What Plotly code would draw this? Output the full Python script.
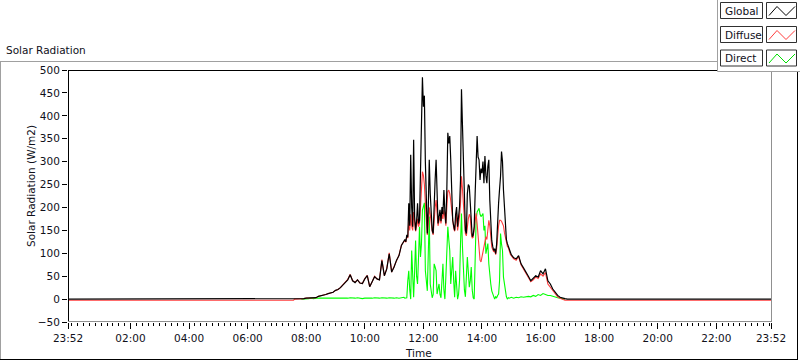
import plotly.graph_objects as go

# ---------------- data ----------------
# first entry is 23:52 of the previous day, all others are on the plotted day
clock_times = [
    "23:52", "07:34", "07:36", "07:40", "07:45",
    "07:50", "07:55", "08:00", "08:05", "08:10", "08:15", "08:20", "08:25", "08:30", "08:35",
    "08:40", "08:45", "08:50", "08:55", "09:00", "09:05", "09:10", "09:15", "09:20", "09:25",
    "09:30", "09:35", "09:40", "09:45", "09:50", "09:55", "10:00", "10:05", "10:10", "10:15",
    "10:20", "10:25", "10:30", "10:35", "10:40", "10:45", "10:50", "10:55", "11:00", "11:05",
    "11:10", "11:15", "11:20",
    "11:22", "11:24", "11:26", "11:28", "11:30", "11:32", "11:34", "11:36", "11:38", "11:40",
    "11:42", "11:44", "11:46", "11:48", "11:50", "11:52", "11:54", "11:56", "11:58",
    "12:00", "12:02", "12:04", "12:06", "12:08", "12:10", "12:12", "12:14", "12:16", "12:18",
    "12:20", "12:22", "12:24", "12:26", "12:28", "12:30", "12:32", "12:34", "12:36", "12:38",
    "12:40", "12:42", "12:44", "12:46", "12:48", "12:50", "12:52", "12:54", "12:56", "12:58",
    "13:00", "13:02", "13:04", "13:06", "13:08", "13:10", "13:12", "13:14", "13:16", "13:18",
    "13:20", "13:22", "13:24", "13:26", "13:28", "13:30", "13:32", "13:34", "13:36", "13:38",
    "13:40", "13:42", "13:44", "13:46", "13:48", "13:50", "13:52", "13:54", "13:56", "13:58",
    "14:00", "14:02", "14:04", "14:06", "14:08", "14:10", "14:12", "14:14", "14:16", "14:18",
    "14:20", "14:22", "14:24", "14:26", "14:28", "14:30", "14:32", "14:34", "14:36", "14:38",
    "14:40", "14:42", "14:44", "14:46", "14:48", "14:50", "14:52", "14:54", "14:56", "14:58",
    "15:00",
    "15:05", "15:10", "15:15", "15:20", "15:25", "15:30", "15:35", "15:40", "15:45", "15:50",
    "15:55", "16:00", "16:05", "16:10", "16:15", "16:20", "16:25", "16:30", "16:35", "16:40",
    "16:45", "16:50", "16:55", "17:00", "17:30", "23:52",
]

global_wm2 = [
    0, 0, 0, 0, 0,
    0, 1, 2, 2, 2, 3, 3, 6, 7, 8,
    10, 12, 14, 15, 19, 21, 25, 30, 37, 42,
    53, 40, 36, 42, 35, 34, 44, 51, 27, 38,
    49, 44, 42, 84, 51, 66, 99, 59, 70, 85,
    95, 117, 128,
    130, 125, 140, 135, 209, 160, 315, 200, 158, 348,
    180, 150, 170, 209, 165, 172, 260, 370, 484,
    420, 444, 300, 187, 143, 200, 304, 230, 172, 150,
    143, 216, 260, 304, 200, 165, 180, 195, 170, 201,
    185, 238, 190, 165, 240, 363, 340, 356, 304, 220,
    172, 160, 150, 185, 201, 158, 175, 201, 260, 458,
    380, 304, 200, 150, 143, 230, 250, 246, 210, 170,
    136, 140, 158, 230, 300, 356, 310, 304, 260, 285,
    275, 300, 253, 312, 270, 253, 290, 304, 216, 170,
    128, 115, 106, 110, 99, 120, 180, 209, 240, 268,
    322, 300, 238, 190, 158, 130, 121, 115, 106, 100,
    97,
    90, 88, 95, 77, 68, 60, 50, 40, 45, 51,
    48, 62, 55, 66, 40, 33, 22, 14, 8, 4,
    2, 1, 0, 0, 0, 0,
]

diffuse_wm2 = [
    -2.5, -2.5, 0, 0, 0,
    0, 1, 2, 2, 2, 3, 3, 6, 7, 8,
    10, 12, 14, 15, 19, 21, 25, 30, 37, 43,
    54, 40, 37, 42, 35, 34, 45, 52, 27, 38,
    50, 44, 42, 86, 51, 67, 101, 59, 71, 86,
    96, 118, 127,
    128, 124, 138, 133, 170, 150, 185, 160, 150, 190,
    165, 148, 160, 175, 158, 165, 200, 240, 278,
    270, 250, 210, 170, 140, 165, 200, 185, 160, 148,
    140, 180, 200, 216, 185, 160, 170, 180, 165, 185,
    175, 194, 180, 160, 200, 235, 238, 230, 215, 190,
    165, 155, 148, 170, 185, 150, 165, 180, 210, 268,
    240, 200, 160, 143, 138, 160, 175, 185, 180, 145,
    133, 135, 150, 175, 187, 165, 140, 100, 85, 81,
    92, 110, 121, 128, 136, 130, 150, 172, 160, 135,
    114, 108, 103, 106, 97, 110, 140, 160, 172, 172,
    170, 165, 160, 145, 135, 121, 115, 112, 104, 98,
    95,
    88, 85, 93, 75, 66, 58, 48, 38, 42, 48,
    45, 55, 50, 58, 33, 26, 17, 10, 5, 2,
    0, -2.5, -2.5, -2.5, -2.5, -2.5,
]

# night-time direct values lie under the global trace and are not visible -> None
direct_wm2 = [
    None, None, None, None, None,
    0, 0, 1, 1, 2, 1, 2, 2, 1, 2,
    2, 1, 2, 2, 1, 2, 2, 1, 2, 2,
    3, 2, 2, 3, 2, 1, 2, 2, 1, 2,
    3, 2, 2, 3, 2, 2, 3, 2, 2, 3,
    2, 3, 4,
    2, 2, 3, 40, 62, 20, 0, 106, 30, 4,
    60, 128, 50, 33, 90, 158, 92, 120, 194,
    200, 210, 62, 40, 18, 100, 180, 33, 20, 3,
    10, 77, 70, 62, 11, 20, 33, 10, 3, 40,
    77, 20, 0, 48, 100, 158, 130, 106, 33, 60,
    92, 40, 4, 62, 30, 0, 10, 40, 120, 187,
    114, 60, 20, 5, 40, 92, 60, 26, 40, 70,
    20, 3, 0, 120, 172, 190, 194, 198, 185, 180,
    183, 187, 150, 160, 99, 110, 121, 77, 50, 33,
    18, 10, 3, 0, 5, 3, 8, 11, 40, 143,
    120, 106, 48, 30, 18, 5, 0, 3, 2, 3,
    4,
    2, 4, 3, 5, 4, 5, 6, 5, 8, 6,
    10, 8, 12, 10, 8, 8, 6, 5, 3, 2,
    1, 0, None, None, None, None,
]

x_tick_labels = ["23:52", "02:00", "04:00", "06:00", "08:00", "10:00", "12:00",
                 "14:00", "16:00", "18:00", "20:00", "22:00", "23:52"]
x_tick_times = ["2024-05-01 23:52", "2024-05-02 02:00", "2024-05-02 04:00", "2024-05-02 06:00",
                "2024-05-02 08:00", "2024-05-02 10:00", "2024-05-02 12:00", "2024-05-02 14:00",
                "2024-05-02 16:00", "2024-05-02 18:00", "2024-05-02 20:00", "2024-05-02 22:00",
                "2024-05-02 23:52"]

assert len(clock_times) == len(global_wm2) == len(diffuse_wm2) == len(direct_wm2)

x_vals = [("2024-05-01 " if i == 0 else "2024-05-02 ") + t for i, t in enumerate(clock_times)]

# ---------------- figure ----------------
W, H = 800, 361
X0, X1, Y0, Y1 = 68, 771, 70, 322  # plot area in pixels


def px(x):
    return (x - X0) / (X1 - X0)


def py(y):
    return (Y1 - y) / (Y1 - Y0)


FONT = "DejaVu Sans"
TXT = "#10101a"

fig = go.Figure()
fig.add_trace(go.Scatter(x=x_vals, y=direct_wm2, mode="lines", name="Direct",
                         line=dict(color="#00ff00", width=1.1), connectgaps=False))
fig.add_trace(go.Scatter(x=x_vals, y=diffuse_wm2, mode="lines", name="Diffuse",
                         line=dict(color="#ff3c3c", width=1.1)))
fig.add_trace(go.Scatter(x=x_vals, y=global_wm2, mode="lines", name="Global",
                         line=dict(color="#000000", width=1.2)))

shapes = []


def line(x0, y0, x1, y1, color, width=1):
    shapes.append(dict(type="line", xref="paper", yref="paper",
                       x0=px(x0), y0=py(y0), x1=px(x1), y1=py(y1),
                       line=dict(color=color, width=width), layer="above"))


def rect(x0, y0, x1, y1, linecolor, fill="white", width=1):
    shapes.append(dict(type="rect", xref="paper", yref="paper",
                       x0=px(x0), y0=py(y0), x1=px(x1), y1=py(y1),
                       line=dict(color=linecolor, width=width), fillcolor=fill, layer="above"))


# outer frame
line(0, 61.5, 800, 61.5, "#a0a0a0")
line(0.5, 61, 0.5, 360, "#a0a0a0")
line(0, 359.5, 798, 359.5, "#000000")
line(797.5, 61, 797.5, 360, "#000000")
# plot frame
line(68.5, 70, 68.5, 322, "#000000")
line(68, 70.5, 772, 70.5, "#000000")
line(771.5, 70, 771.5, 322, "#909090")
line(68, 321.5, 772, 321.5, "#909090")

# legend panel
rect(717.5, -2, 802, 71.5, "#a0a0a0", fill="white")
legend_rows = [("Global", "#000000", 2.5), ("Diffuse", "#ff3c3c", 26.5), ("Direct", "#00e000", 50.0)]
annotations = []
for name, col, ytop in legend_rows:
    rect(720.5, ytop, 762.5, ytop + 16, "#303030", fill="white")
    rect(766.5, ytop, 796.5, ytop + 16, "#303030", fill="white")
    pts = [(769, ytop + 13), (777, ytop + 4), (786, ytop + 13), (795, ytop + 4)]
    path = "M " + " L ".join(f"{px(a)},{py(b)}" for a, b in pts)
    shapes.append(dict(type="path", xref="paper", yref="paper", path=path,
                       line=dict(color=col, width=1), layer="above"))
    annotations.append(dict(x=px(722.5), y=py(ytop + 8.5), xref="paper", yref="paper",
                            text=name, showarrow=False, xanchor="left", yanchor="middle",
                            font=dict(family=FONT, size=10.5, color=TXT)))

annotations += [
    dict(x=px(4), y=py(50), xref="paper", yref="paper", text="Solar Radiation",
         showarrow=False, xanchor="left", yanchor="middle",
         font=dict(family=FONT, size=10.5, color=TXT)),
    dict(x=px(31), y=py(186), xref="paper", yref="paper", text="Solar Radiation (W/m2)",
         showarrow=False, textangle=-90, xanchor="center", yanchor="middle",
         font=dict(family=FONT, size=10.5, color=TXT)),
    dict(x=px(418), y=py(353), xref="paper", yref="paper", text="Time",
         showarrow=False, xanchor="center", yanchor="middle",
         font=dict(family=FONT, size=10.5, color=TXT)),
]

fig.update_layout(
    width=W, height=H, autosize=False,
    margin=dict(l=X0, r=W - X1, t=Y0, b=H - Y1, pad=0),
    paper_bgcolor="white", plot_bgcolor="white",
    showlegend=False,
    font=dict(family=FONT, size=10.5, color=TXT),
    shapes=shapes, annotations=annotations,
    xaxis=dict(type="date", range=["2024-05-01 23:52", "2024-05-02 23:52"],
               tickmode="array", tickvals=x_tick_times, ticktext=x_tick_labels,
               ticks="outside", ticklen=6, tickcolor="#000000", tickwidth=1,
               showgrid=False, zeroline=False, showline=False,
               minor=dict(ticks="outside", ticklen=3, tickcolor="#000000",
                          tick0="2024-05-02 00:00", dtick=12 * 60 * 1000, showgrid=False),
               tickfont=dict(family=FONT, size=10.5, color=TXT)),
    yaxis=dict(range=[-50, 500], tickmode="linear", tick0=0, dtick=50,
               ticks="outside", ticklen=5, tickcolor="#000000", tickwidth=1,
               showgrid=False, zeroline=False, showline=False,
               tickfont=dict(family=FONT, size=10.5, color=TXT)),
)

fig.write_html(
    "out.html",
    config={"displayModeBar": False},
    post_script="document.body.style.margin='0';document.body.style.overflow='hidden';",
)
